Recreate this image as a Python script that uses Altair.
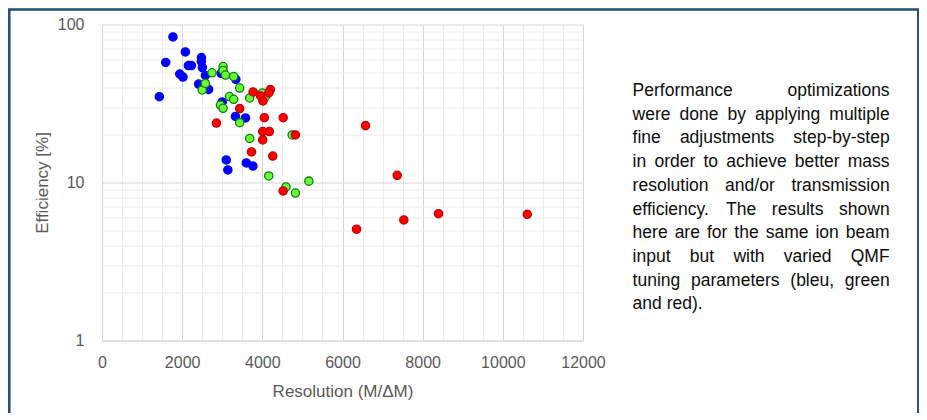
import altair as alt
import pandas as pd

# ---------------- data ----------------
blue_x = [1430, 1590, 1770, 2080, 1940, 2020, 2155, 2230, 2480, 2480, 2505, 2580,
          2410, 2660, 2970, 3340, 3000, 3330, 3580, 3100, 3600, 3765, 3140]
blue_y = [34.9, 57.5, 83.4, 67.0, 48.6, 46.5, 55.0, 55.0, 61.8, 58.3, 53.4, 47.6,
          42.0, 38.8, 49.1, 45.0, 32.3, 26.2, 25.6, 13.9, 13.3, 12.7, 12.0]

green_x = [2500, 2580, 2745, 3020, 3020, 3080, 3285, 3435, 3180, 3285, 2955, 3020,
           3685, 4000, 4075, 3435, 3685, 4745, 4160, 5160, 4590, 4825]
green_y = [38.5, 42.4, 49.5, 54.2, 51.2, 47.9, 46.9, 39.6, 35.0, 33.6, 30.9, 29.5,
           34.3, 36.9, 34.8, 23.9, 19.0, 20.0, 11.0, 10.2, 9.37, 8.58]

red_x = [2855, 3435, 3770, 3955, 4015, 4200, 4160, 4050, 4520, 4010, 4175, 4825,
         4010, 3730, 4260, 4520, 6575, 7365, 6350, 7530, 8395, 10610]
red_y = [23.8, 29.4, 37.4, 35.3, 32.8, 38.7, 36.9, 25.7, 25.7, 21.0, 21.0, 20.0,
         18.6, 15.6, 14.7, 8.84, 22.9, 11.1, 5.06, 5.79, 6.35, 6.29]

series_names = ["blue", "green", "red"]
series_fill = ["#0000ff", "#66ff33", "#ff0000"]
series_stroke = ["#0000ff", "#157a15", "#c00000"]

x_ticks = list(range(0, 12001, 500))
y_ticks = [1, 2, 3, 4, 5, 6, 7, 8, 9, 10, 20, 30, 40, 50, 60, 70, 80, 90, 100]

paragraph = [
    "Performance optimizations",
    "were done by applying multiple",
    "fine adjustments step-by-step",
    "in order to achieve better mass",
    "resolution and/or transmission",
    "efficiency. The results shown",
    "here are for the same ion beam",
    "input but with varied QMF",
    "tuning parameters (bleu, green",
    "and red).",
]

# ---------------- tables ----------------
rows = []
for name, xs, ys in [("blue", blue_x, blue_y), ("green", green_x, green_y), ("red", red_x, red_y)]:
    for xv, yv in zip(xs, ys):
        rows.append({"series": name, "res": xv, "eff": yv})
pts = pd.DataFrame(rows)

# justified paragraph layout (Arial / Liberation Sans advance widths)
AW = {
    'a': 556, 'b': 556, 'c': 500, 'd': 556, 'e': 556, 'f': 278, 'g': 556, 'h': 556,
    'i': 222, 'j': 222, 'k': 500, 'l': 222, 'm': 833, 'n': 556, 'o': 556, 'p': 556,
    'q': 556, 'r': 333, 's': 500, 't': 278, 'u': 556, 'v': 500, 'w': 722, 'x': 500,
    'y': 500, 'z': 500, 'P': 667, 'Q': 778, 'M': 833, 'F': 611, 'T': 611,
    '(': 333, ')': 333, '.': 278, ',': 278, '-': 333, '/': 278, ' ': 278,
}
FS_TEXT = 17.5


def text_width(s):
    return sum(AW.get(c, 556) for c in s) * FS_TEXT / 1000.0


X0_PAGE = 101.7
Y0_PAGE = 24.5
left_edge = 632.3 - X0_PAGE
right_edge = 889.3 - X0_PAGE
first_base = 96.0 - Y0_PAGE
line_step = 23.7

words = []
for i, line in enumerate(paragraph):
    yb = first_base + i * line_step
    parts = line.split(" ")
    if i == len(paragraph) - 1 or len(parts) == 1:
        words.append({"w": line, "px": left_edge, "py": yb})
        continue
    total = sum(text_width(p) for p in parts)
    gap = (right_edge - left_edge - total) / (len(parts) - 1)
    xpos = left_edge
    for p in parts:
        words.append({"w": p, "px": xpos, "py": yb})
        xpos += text_width(p) + gap
words_df = pd.DataFrame(words)

# ---------------- chart ----------------
FONT = "Liberation Sans"
GRID_MAJOR = "#d6d6d6"
GRID_MINOR = "#ececec"

x_axis = alt.Axis(
    values=x_ticks,
    grid=True,
    gridColor=alt.condition("datum.value % 2000 === 0", alt.value(GRID_MAJOR), alt.value(GRID_MINOR)),
    gridWidth=1,
    ticks=False,
    domainColor=GRID_MAJOR,
    labelExpr="datum.value % 2000 === 0 ? format(datum.value, 'd') : ''",
    labelFont=FONT,
    labelFontSize=16,
    labelColor="#595959",
    labelPadding=14,
    labelFlush=False,
    labelOverlap=False,
    title="Resolution (M/ΔM)",
    titleFont=FONT,
    titleFontSize=17,
    titleFontWeight="normal",
    titleColor="#595959",
    titlePadding=13,
)

y_axis = alt.Axis(
    values=y_ticks,
    grid=True,
    gridColor=alt.condition("datum.value == 1 || datum.value == 10 || datum.value == 100",
                            alt.value(GRID_MAJOR), alt.value(GRID_MINOR)),
    gridWidth=1,
    ticks=False,
    domainColor=GRID_MAJOR,
    labelExpr="(datum.value == 1 || datum.value == 10 || datum.value == 100) ? format(datum.value, 'd') : ''",
    labelFont=FONT,
    labelFontSize=16,
    labelColor="#595959",
    labelPadding=18,
    labelFlush=False,
    labelOverlap=False,
    title="Efficiency [%]",
    titleFont=FONT,
    titleFontSize=17,
    titleFontWeight="normal",
    titleColor="#595959",
    titlePadding=6,
)

points = alt.Chart(pts).mark_point(filled=True, opacity=1, strokeWidth=1.3, size=68).encode(
    x=alt.X("res:Q", scale=alt.Scale(domain=[0, 12000], nice=False, zero=False), axis=x_axis),
    y=alt.Y("eff:Q", scale=alt.Scale(type="log", domain=[1, 100], nice=False), axis=y_axis),
    fill=alt.Fill("series:N", scale=alt.Scale(domain=series_names, range=series_fill), legend=None),
    stroke=alt.Stroke("series:N", scale=alt.Scale(domain=series_names, range=series_stroke), legend=None),
    shape=alt.value("circle"),
)

text = alt.Chart(words_df).mark_text(
    align="left", baseline="alphabetic", font=FONT, fontSize=FS_TEXT, color="#0d0d0d"
).encode(
    x=alt.X("px:Q", scale=None),
    y=alt.Y("py:Q", scale=None),
    text="w:N",
)

border = alt.Chart(pd.DataFrame({"k": [0]})).mark_rect(
    fill="transparent", stroke="#1f4e79", strokeWidth=2.5
).encode(
    x=alt.value(9 - X0_PAGE),
    x2=alt.value(918 - X0_PAGE),
    y=alt.value(9.5 - Y0_PAGE),
    y2=alt.value(440 - Y0_PAGE),
)

PLOT_W = 481
PLOT_H = 316
PAD_L = 94
PAD_T = 16.5
SVG_W = 911
SVG_H = 405

chart = alt.layer(border, points, text).properties(
    width=PLOT_W,
    height=PLOT_H,
    autosize=alt.AutoSizeParams(type="none"),
    padding={"left": PAD_L, "top": PAD_T, "right": SVG_W - PAD_L - PLOT_W, "bottom": SVG_H - PAD_T - PLOT_H},
    background="white",
).configure_view(strokeWidth=0)

chart.save("out.html", embed_options={"renderer": "svg", "actions": False})
